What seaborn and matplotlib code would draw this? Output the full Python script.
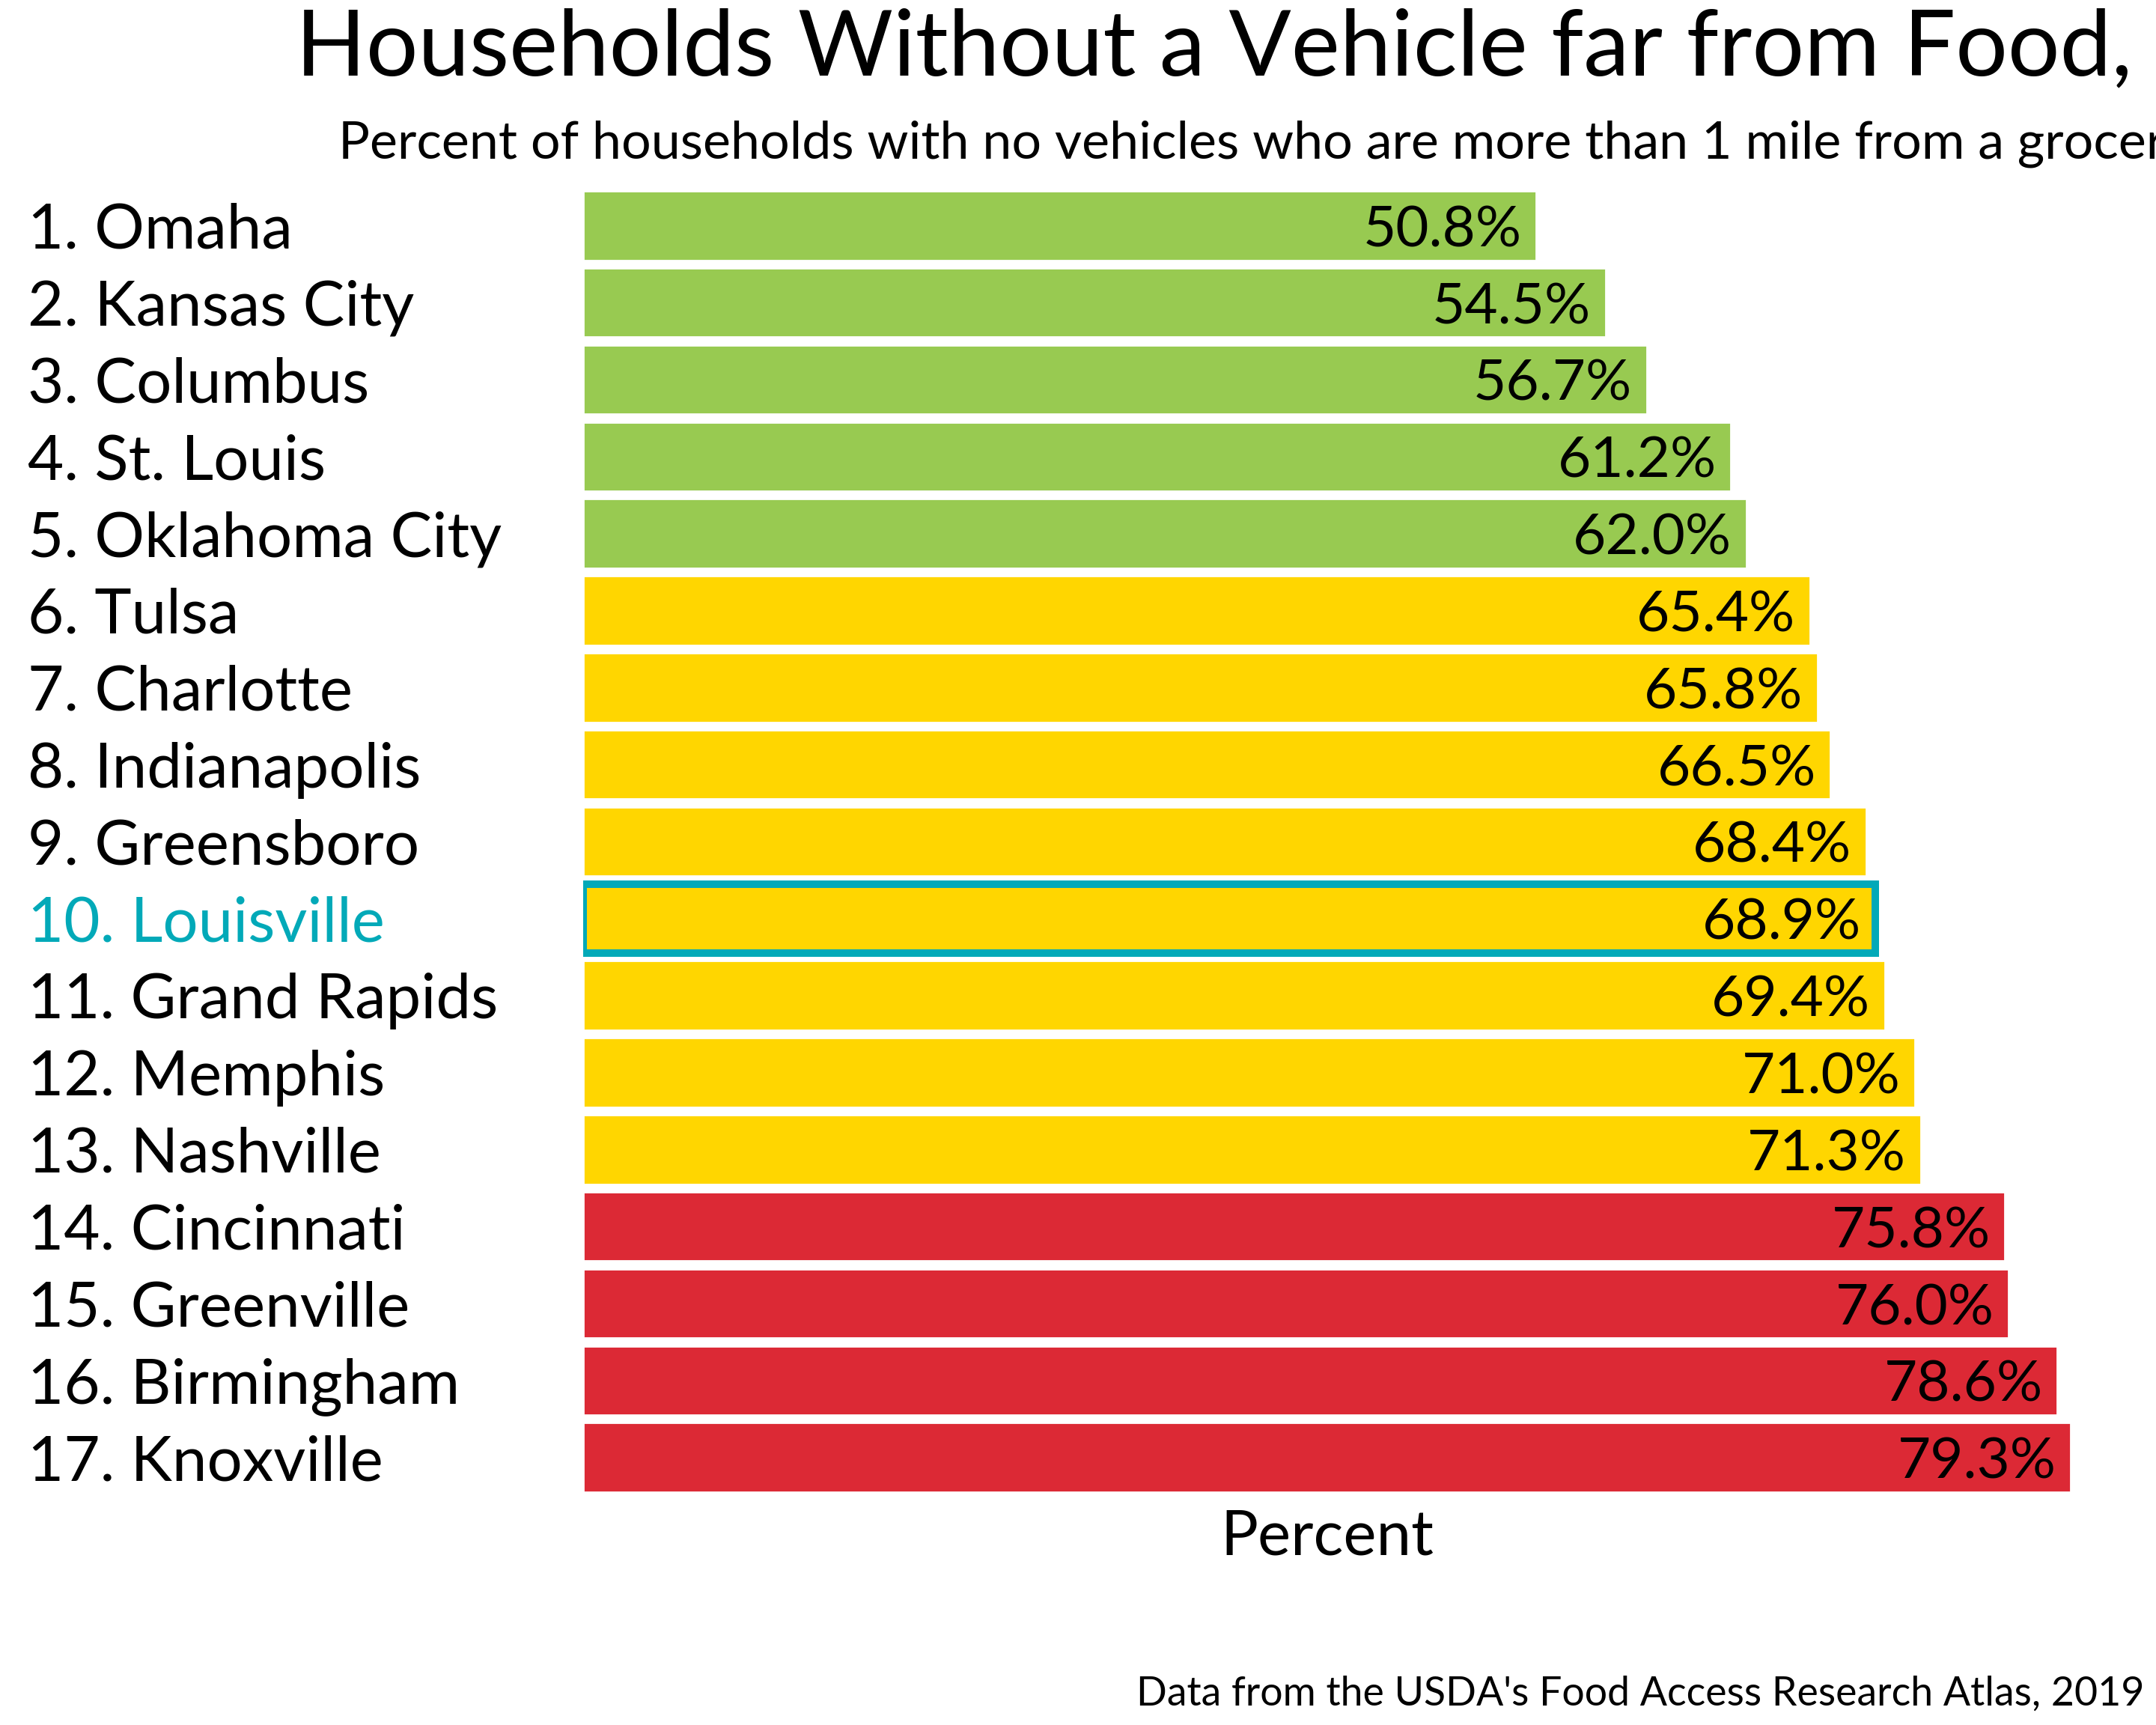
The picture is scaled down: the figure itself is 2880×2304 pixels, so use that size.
import matplotlib
matplotlib.use("Agg")
import matplotlib.pyplot as plt
import seaborn as sns

# Datos
ciudades = ["1. Omaha", "2. Kansas City", "3. Columbus", "4. St. Louis",
            "5. Oklahoma City", "6. Tulsa", "7. Charlotte", "8. Indianapolis",
            "9. Greensboro", "10. Louisville", "11. Grand Rapids", "12. Memphis",
            "13. Nashville", "14. Cincinnati", "15. Greenville", "16. Birmingham",
            "17. Knoxville"]
porcentajes = [50.8, 54.5, 56.7, 61.2, 62.0, 65.4, 65.8, 66.5, 68.4, 68.9,
               69.4, 71.0, 71.3, 75.8, 76.0, 78.6, 79.3]
grupos = ["low"] * 5 + ["mid"] * 8 + ["high"] * 4
colores_grupo = {"low": "#98CA51", "mid": "#FFD600", "high": "#DC2935"}
resaltado = "10. Louisville"
teal = "#02A9B8"

sns.set_theme(style="white")
plt.rcParams["font.family"] = ["Lato", "DejaVu Sans"]
plt.rcParams["text.color"] = "black"
plt.rcParams["axes.labelcolor"] = "black"
plt.rcParams["ytick.color"] = "black"

fig = plt.figure(figsize=(14.4, 11.52), dpi=200)
ax = fig.add_axes([779 / 2880, 1 - 1993 / 2304, (2766 - 779) / 2880, (1993 - 255) / 2304])

paleta = [colores_grupo[g] for g in grupos]
sns.barplot(x=porcentajes, y=ciudades, hue=ciudades, palette=paleta,
            legend=False, width=0.9, orient="h", saturation=1, ax=ax)

ax.set_xlim(0, 79.3)
ax.set_ylim(16.45, -0.45)

# Resaltar Louisville
idx = ciudades.index(resaltado)
for bar in ax.patches:
    y_c = bar.get_y() + bar.get_height() / 2
    if abs(y_c - idx) < 0.1:
        bar.set_edgecolor(teal)
        bar.set_linewidth(3.6)
        bar.set_zorder(5)

# Etiquetas de valor
for i, v in enumerate(porcentajes):
    ax.annotate(f"{v:.1f}%", (v, i), xytext=(-7, 0), textcoords="offset points",
                ha="right", va="center_baseline", fontsize=27.5, color="black", zorder=6)

# Ejes
ax.set_xticks([])
ax.tick_params(axis="y", length=0, pad=267, labelsize=30)
for lbl in ax.get_yticklabels():
    lbl.set_horizontalalignment("left")
    if lbl.get_text() == resaltado:
        lbl.set_color(teal)
ax.set_ylabel("")
ax.set_xlabel("Percent", fontsize=30, labelpad=8)
sns.despine(ax=ax, left=True, bottom=True)

# Títulos
fig.text(395 / 2880, 1 - 100 / 2304, "Households Without a Vehicle far from Food, 2019",
         ha="left", va="baseline", fontsize=44.3)
fig.text(452 / 2880, 1 - 212 / 2304,
         "Percent of households with no vehicles who are more than 1 mile from a grocery store",
         ha="left", va="baseline", fontsize=25.2)
fig.text(2865 / 2880, 1 - 2278 / 2304, "Data from the USDA's Food Access Research Atlas, 2019",
         ha="right", va="baseline", fontsize=19.3)

fig.savefig("out.png", dpi=200)
